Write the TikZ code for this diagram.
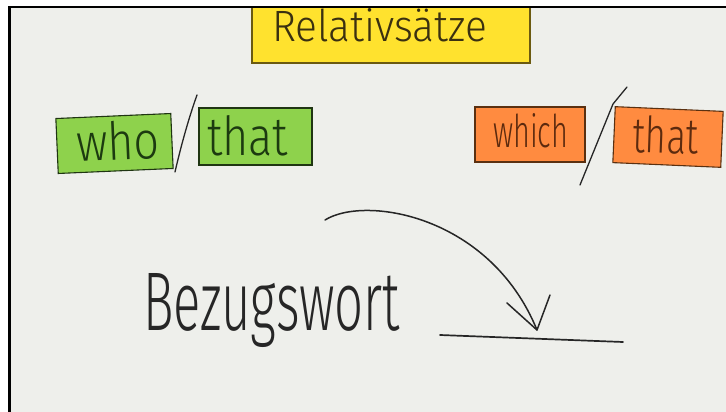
\documentclass[tikz,border=0pt]{standalone}
\usepackage{fontspec}
\usepackage{graphicx}
\newfontfamily\hand{Fira Sans Light}
\definecolor{bgc}{HTML}{EEEFEB}
\definecolor{grfill}{HTML}{8ED24C}
\definecolor{grline}{HTML}{1F3512}
\definecolor{grtext}{HTML}{1C3A10}
\definecolor{orfill}{HTML}{FF8B40}
\definecolor{orline}{HTML}{5A3010}
\definecolor{ortext}{HTML}{5C2A0E}
\definecolor{yefill}{HTML}{FFE22E}
\definecolor{yeline}{HTML}{6B5A10}
\definecolor{yetext}{HTML}{3A3010}
\definecolor{ink}{HTML}{262626}
\tikzset{
  card/.style={draw, line width=1.1pt, inner sep=0pt},
  greencard/.style={card, fill=grfill, draw=grline},
  orangecard/.style={card, fill=orfill, draw=orline},
  word/.style={inner sep=0pt, anchor=base west},
  stroke/.style={draw=ink, line width=1.5pt, line cap=round, line join=round}
}
\begin{document}
\begin{tikzpicture}[x=1pt,y=-1pt]
\useasboundingbox (0,0) rectangle (726,412);
\fill[white] (0,0) rectangle (726,412);
\fill[bgc] (8,6) rectangle (726,412);

% title card
\node[card, fill=yefill, draw=yeline, minimum width=278pt, minimum height=56pt] (title) at (391,35) {};
\node[word, text=yetext] (titletext) at (272,42) {\resizebox{215pt}{33pt}{\hand Relativsätze}};

% green cards
\node[greencard, minimum width=115pt, minimum height=55pt, rotate=2.5] (who) at (114.5,143.5) {};
\node[word, text=grtext, rotate=2.5] (whotext) at (77,162) {\resizebox{83pt}{39pt}{\hand who}};
\node[greencard, minimum width=113pt, minimum height=57pt] (that1) at (255.5,136.5) {};
\node[word, text=grtext] (that1text) at (207,155) {\resizebox{81pt}{40pt}{\hand that}};
\coordinate (s1a) at (197,95);
\coordinate (s1b) at (175,172);
\draw[stroke, line width=1.3pt] (s1a) .. controls (188,120) and (180,150) .. (s1b);

% orange cards
\node[orangecard, minimum width=110pt, minimum height=55pt] (which) at (530,134.5) {};
\node[word, text=ortext] (whichtext) at (493,147) {\resizebox{75pt}{34pt}{\hand which}};
\node[orangecard, minimum width=108pt, minimum height=56pt, rotate=-2.5] (that2) at (668,137) {};
\node[word, text=ortext, rotate=-2] (that2text) at (632,152) {\resizebox{66pt}{37pt}{\hand that}};
\coordinate (s2a) at (627,87);
\coordinate (s2k) at (613,104);
\coordinate (s2b) at (580,185);
\draw[stroke, line width=1.3pt] (s2a) -- (s2k) -- (s2b);

% reference word
\node[word, text=ink] (bezug) at (143,330) {\resizebox{257pt}{57pt}{\hand Bezugswort}};

% arrow and blank
\coordinate (arcstart) at (325,220);
\coordinate (tip) at (537,330);
\coordinate (armL) at (507,303);
\coordinate (armR) at (550,295);
\draw[stroke] (arcstart) .. controls (365,195) and (490,215) .. (tip);
\draw[stroke] (armL) -- (tip) -- (armR);
\coordinate (blankA) at (440,335);
\coordinate (blankB) at (623,342);
\draw[stroke, line width=1.7pt] (blankA) -- (blankB);

% frame
\draw[black, line width=2.5pt] (9.25,412) -- (9.25,7.25) -- (726,7.25);
\end{tikzpicture}
\end{document}
